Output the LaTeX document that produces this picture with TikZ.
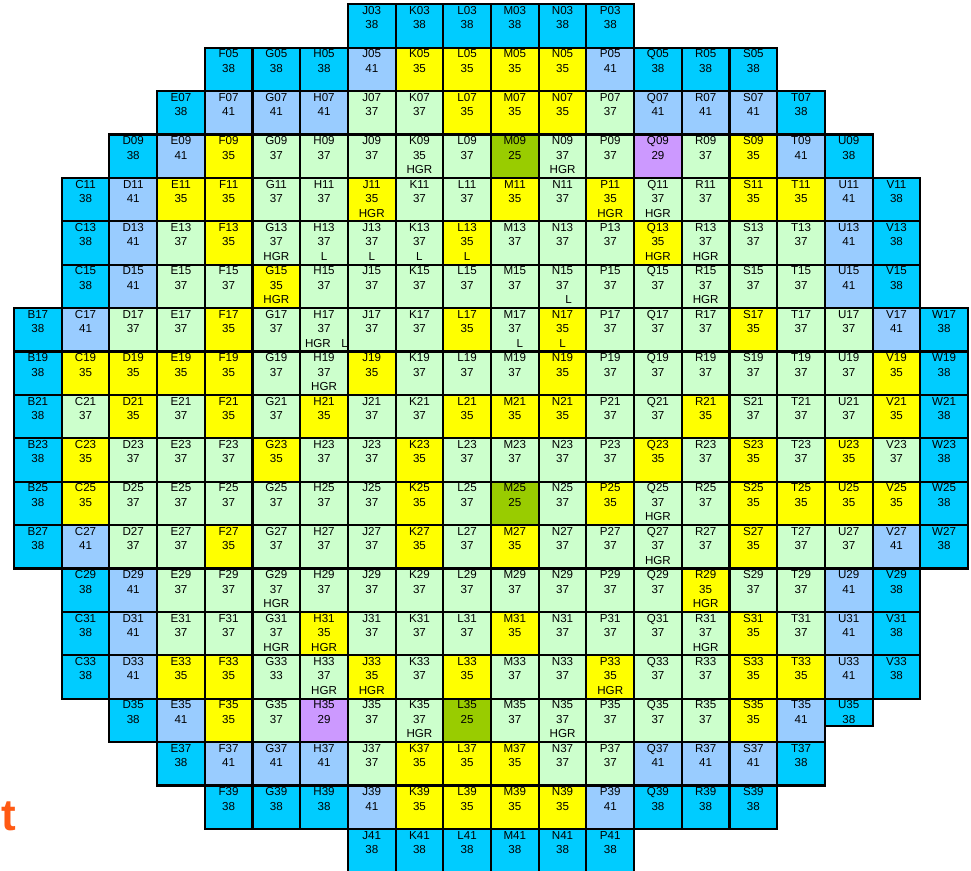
\documentclass[tikz,border=0pt]{standalone}
\usepackage{fontspec}
\setmainfont{Liberation Sans}
\definecolor{cy}{RGB}{0,204,255}
\definecolor{lb}{RGB}{153,204,255}
\definecolor{ye}{RGB}{255,255,0}
\definecolor{gr}{RGB}{204,255,204}
\definecolor{ol}{RGB}{153,204,0}
\definecolor{pu}{RGB}{204,153,255}
\definecolor{orangecol}{RGB}{255,90,20}
\tikzset{
  cellbox/.style={minimum width=35.775pt, minimum height=32.55pt,
    inner sep=0pt, outer sep=0pt, anchor=north west},
  gridline/.style={draw=black, line width=1.6pt},
  celltxt/.style={font=\fontsize{8.7}{10.9}\selectfont, align=center, inner sep=0pt, anchor=north},
}
\def\RowA{J03/38/cy/{},K03/38/cy/{},L03/38/cy/{},M03/38/cy/{},N03/38/cy/{},P03/38/cy/{}}
\def\RowB{F05/38/cy/{},G05/38/cy/{},H05/38/cy/{},J05/41/lb/{},K05/35/ye/{},L05/35/ye/{},M05/35/ye/{},N05/35/ye/{},P05/41/lb/{},Q05/38/cy/{},R05/38/cy/{},S05/38/cy/{}}
\def\RowC{E07/38/cy/{},F07/41/lb/{},G07/41/lb/{},H07/41/lb/{},J07/37/gr/{},K07/37/gr/{},L07/35/ye/{},M07/35/ye/{},N07/35/ye/{},P07/37/gr/{},Q07/41/lb/{},R07/41/lb/{},S07/41/lb/{},T07/38/cy/{}}
\def\RowD{D09/38/cy/{},E09/41/lb/{},F09/35/ye/{},G09/37/gr/{},H09/37/gr/{},J09/37/gr/{},K09/35/gr/HGR,L09/37/gr/{},M09/25/ol/{},N09/37/gr/HGR,P09/37/gr/{},Q09/29/pu/{},R09/37/gr/{},S09/35/ye/{},T09/41/lb/{},U09/38/cy/{}}
\def\RowE{C11/38/cy/{},D11/41/lb/{},E11/35/ye/{},F11/35/ye/{},G11/37/gr/{},H11/37/gr/{},J11/35/ye/HGR,K11/37/gr/{},L11/37/gr/{},M11/35/ye/{},N11/37/gr/{},P11/35/ye/HGR,Q11/37/gr/HGR,R11/37/gr/{},S11/35/ye/{},T11/35/ye/{},U11/41/lb/{},V11/38/cy/{}}
\def\RowF{C13/38/cy/{},D13/41/lb/{},E13/37/gr/{},F13/35/ye/{},G13/37/gr/HGR,H13/37/gr/L,J13/37/gr/L,K13/37/gr/L,L13/35/ye/L,M13/37/gr/{},N13/37/gr/{},P13/37/gr/{},Q13/35/ye/HGR,R13/37/gr/HGR,S13/37/gr/{},T13/37/gr/{},U13/41/lb/{},V13/38/cy/{}}
\def\RowG{C15/38/cy/{},D15/41/lb/{},E15/37/gr/{},F15/37/gr/{},G15/35/ye/HGR,H15/37/gr/{},J15/37/gr/{},K15/37/gr/{},L15/37/gr/{},M15/37/gr/{},N15/37/gr/{\hspace*{9pt}L},P15/37/gr/{},Q15/37/gr/{},R15/37/gr/HGR,S15/37/gr/{},T15/37/gr/{},U15/41/lb/{},V15/38/cy/{}}
\def\RowH{B17/38/cy/{},C17/41/lb/{},D17/37/gr/{},E17/37/gr/{},F17/35/ye/{},G17/37/gr/{},H17/37/gr/{\hspace*{3.5pt}HGR\hspace{7.9pt}L},J17/37/gr/{},K17/37/gr/{},L17/35/ye/{},M17/37/gr/{\hspace*{7.5pt}L},N17/35/ye/L,P17/37/gr/{},Q17/37/gr/{},R17/37/gr/{},S17/35/ye/{},T17/37/gr/{},U17/37/gr/{},V17/41/lb/{},W17/38/cy/{}}
\def\RowI{B19/38/cy/{},C19/35/ye/{},D19/35/ye/{},E19/35/ye/{},F19/35/ye/{},G19/37/gr/{},H19/37/gr/HGR,J19/35/ye/{},K19/37/gr/{},L19/37/gr/{},M19/37/gr/{},N19/35/ye/{},P19/37/gr/{},Q19/37/gr/{},R19/37/gr/{},S19/37/gr/{},T19/37/gr/{},U19/37/gr/{},V19/35/ye/{},W19/38/cy/{}}
\def\RowJ{B21/38/cy/{},C21/37/gr/{},D21/35/ye/{},E21/37/gr/{},F21/35/ye/{},G21/37/gr/{},H21/35/ye/{},J21/37/gr/{},K21/37/gr/{},L21/35/ye/{},M21/35/ye/{},N21/35/ye/{},P21/37/gr/{},Q21/37/gr/{},R21/35/ye/{},S21/37/gr/{},T21/37/gr/{},U21/37/gr/{},V21/35/ye/{},W21/38/cy/{}}
\def\RowK{B23/38/cy/{},C23/35/ye/{},D23/37/gr/{},E23/37/gr/{},F23/37/gr/{},G23/35/ye/{},H23/37/gr/{},J23/37/gr/{},K23/35/ye/{},L23/37/gr/{},M23/37/gr/{},N23/37/gr/{},P23/37/gr/{},Q23/35/ye/{},R23/37/gr/{},S23/35/ye/{},T23/37/gr/{},U23/35/ye/{},V23/37/gr/{},W23/38/cy/{}}
\def\RowL{B25/38/cy/{},C25/35/ye/{},D25/37/gr/{},E25/37/gr/{},F25/37/gr/{},G25/37/gr/{},H25/37/gr/{},J25/37/gr/{},K25/35/ye/{},L25/37/gr/{},M25/25/ol/{},N25/37/gr/{},P25/35/ye/{},Q25/37/gr/HGR,R25/37/gr/{},S25/35/ye/{},T25/35/ye/{},U25/35/ye/{},V25/35/ye/{},W25/38/cy/{}}
\def\RowM{B27/38/cy/{},C27/41/lb/{},D27/37/gr/{},E27/37/gr/{},F27/35/ye/{},G27/37/gr/{},H27/37/gr/{},J27/37/gr/{},K27/35/ye/{},L27/37/gr/{},M27/35/ye/{},N27/37/gr/{},P27/37/gr/{},Q27/37/gr/HGR,R27/37/gr/{},S27/35/ye/{},T27/37/gr/{},U27/37/gr/{},V27/41/lb/{},W27/38/cy/{}}
\def\RowN{C29/38/cy/{},D29/41/lb/{},E29/37/gr/{},F29/37/gr/{},G29/37/gr/HGR,H29/37/gr/{},J29/37/gr/{},K29/37/gr/{},L29/37/gr/{},M29/37/gr/{},N29/37/gr/{},P29/37/gr/{},Q29/37/gr/{},R29/35/ye/HGR,S29/37/gr/{},T29/37/gr/{},U29/41/lb/{},V29/38/cy/{}}
\def\RowO{C31/38/cy/{},D31/41/lb/{},E31/37/gr/{},F31/37/gr/{},G31/37/gr/HGR,H31/35/ye/HGR,J31/37/gr/{},K31/37/gr/{},L31/37/gr/{},M31/35/ye/{},N31/37/gr/{},P31/37/gr/{},Q31/37/gr/{},R31/37/gr/HGR,S31/35/ye/{},T31/37/gr/{},U31/41/lb/{},V31/38/cy/{}}
\def\RowP{C33/38/cy/{},D33/41/lb/{},E33/35/ye/{},F33/35/ye/{},G33/33/gr/{},H33/37/gr/HGR,J33/35/ye/HGR,K33/37/gr/{},L33/35/ye/{},M33/37/gr/{},N33/37/gr/{},P33/35/ye/HGR,Q33/37/gr/{},R33/37/gr/{},S33/35/ye/{},T33/35/ye/{},U33/41/lb/{},V33/38/cy/{}}
\def\RowQ{D35/38/cy/{},E35/41/lb/{},F35/35/ye/{},G35/37/gr/{},H35/29/pu/{},J35/37/gr/{},K35/37/gr/HGR,L35/25/ol/{},M35/37/gr/{},N35/37/gr/HGR,P35/37/gr/{},Q35/37/gr/{},R35/37/gr/{},S35/35/ye/{},T35/41/lb/{}}
\def\RowR{E37/38/cy/{},F37/41/lb/{},G37/41/lb/{},H37/41/lb/{},J37/37/gr/{},K37/35/ye/{},L37/35/ye/{},M37/35/ye/{},N37/37/gr/{},P37/37/gr/{},Q37/41/lb/{},R37/41/lb/{},S37/41/lb/{},T37/38/cy/{}}
\def\RowS{F39/38/cy/{},G39/38/cy/{},H39/38/cy/{},J39/41/lb/{},K39/35/ye/{},L39/35/ye/{},M39/35/ye/{},N39/35/ye/{},P39/41/lb/{},Q39/38/cy/{},R39/38/cy/{},S39/38/cy/{}}
\def\RowT{J41/38/cy/{},K41/38/cy/{},L41/38/cy/{},M41/38/cy/{},N41/38/cy/{},P41/38/cy/{}}
\def\AllRows{7/0/RowA,4/1/RowB,3/2/RowC,2/3/RowD,1/4/RowE,1/5/RowF,1/6/RowG,0/7/RowH,0/8/RowI,0/9/RowJ,0/10/RowK,0/11/RowL,0/12/RowM,1/13/RowN,1/14/RowO,1/15/RowP,2/16/RowQ,3/17/RowR,4/18/RowS,7/19/RowT}
\begin{document}
\begin{tikzpicture}[x=0.75pt,y=-0.75pt]
\useasboundingbox (0,0) rectangle (971,871);
% pass 1: coloured cells
\foreach \s/\r/\L in \AllRows {
  \expandafter\let\expandafter\LL\csname\L\endcsname
  \foreach \n/\v/\c/\e [count=\i from \s] in \LL {
    \node[cellbox, fill=\c] (\n) at ({14+\i*47.7},{4.3+\r*43.4}) {};
  }
}
\node[cellbox, minimum height=20.25pt, fill=cy, gridline] (U35) at ({14+17*47.7},{4.3+16*43.4}) {};
\node[celltxt] (tU35) at (U35.north) {\rule{0pt}{7.4pt}U35\\38};
% pass 2: borders and texts
\foreach \s/\r/\L in \AllRows {
  \expandafter\let\expandafter\LL\csname\L\endcsname
  \foreach \n/\v/\c/\e [count=\i from \s] in \LL {
    \draw[gridline] (\n.north west) rectangle (\n.south east);
    \node[celltxt] (t\n) at (\n.north) {\rule{0pt}{7.4pt}\n\\\v\\\e};
  }
}
% orange fragment
\node[font=\fontsize{33}{33}\selectfont\bfseries, text=orangecol, anchor=base east, inner sep=0pt] (tfrag) at (16.5,830.5) {t};
\end{tikzpicture}
\end{document}
